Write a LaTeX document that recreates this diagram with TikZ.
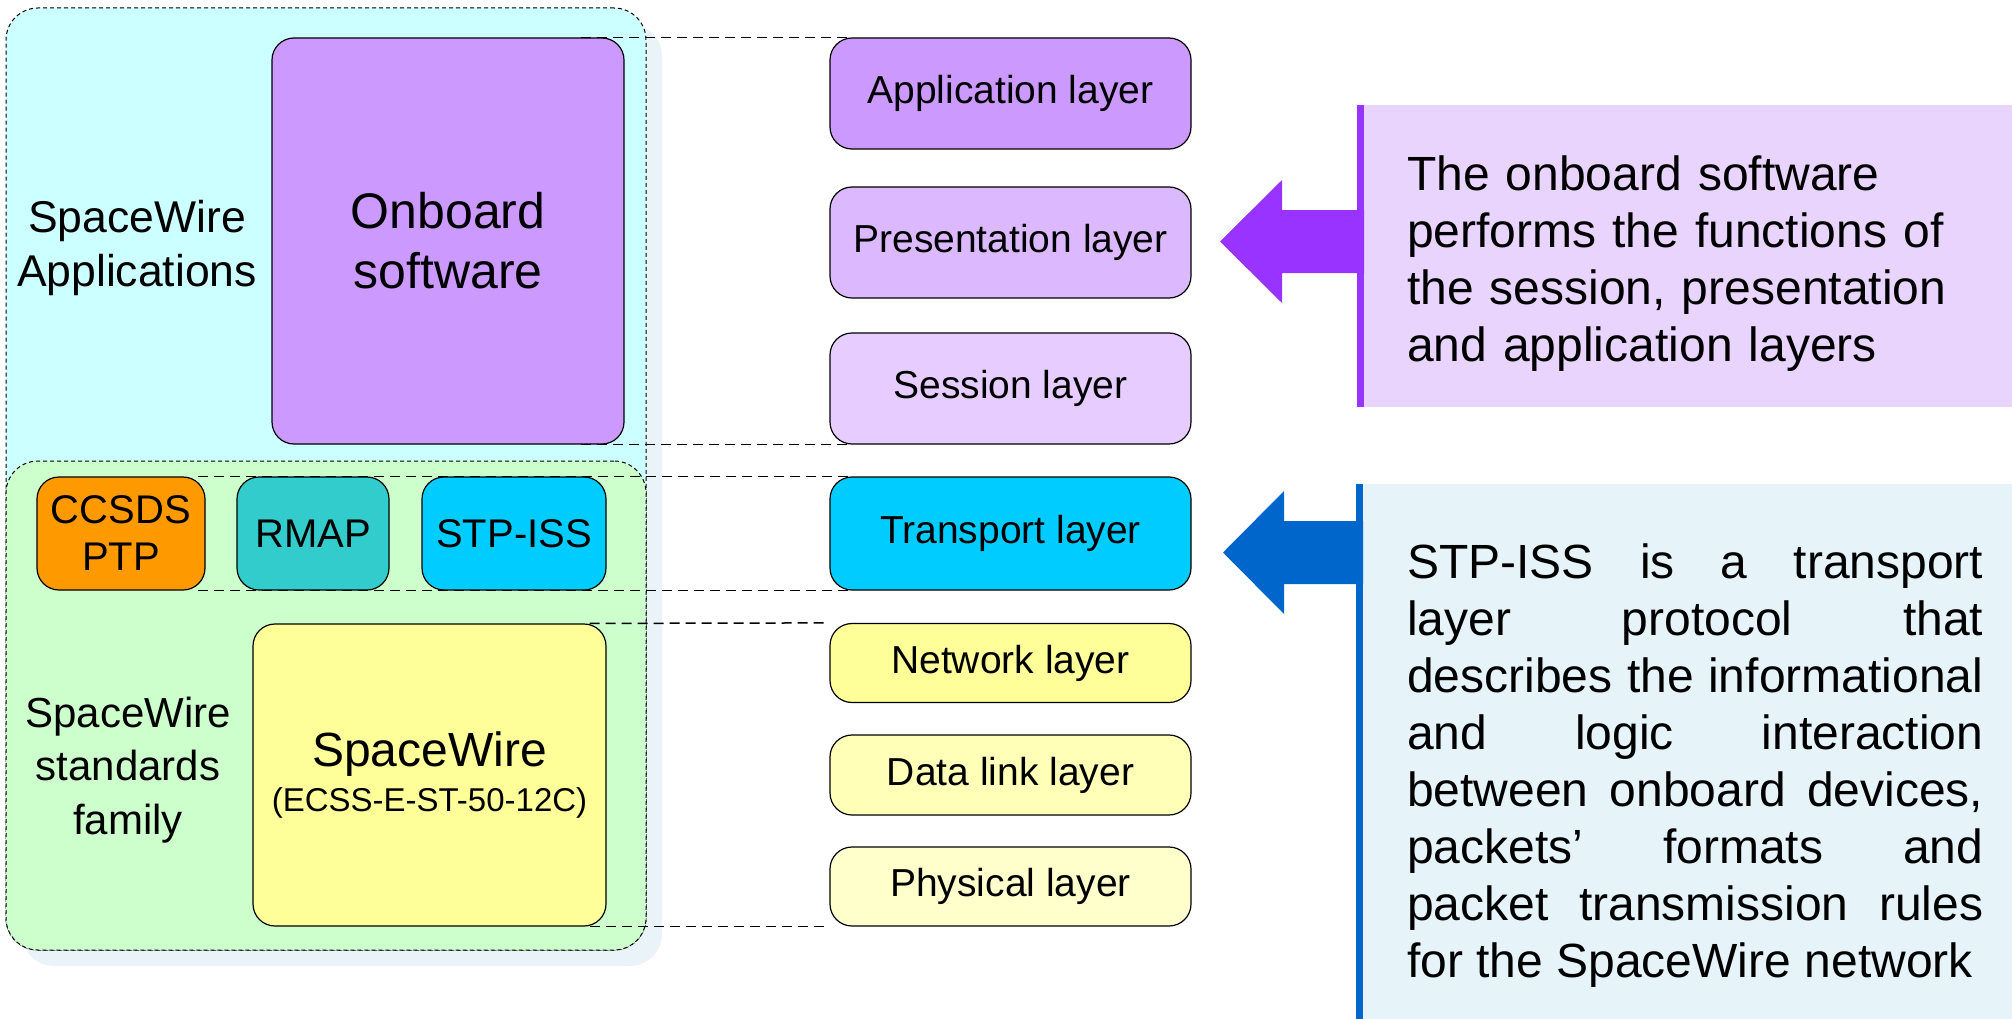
\documentclass[tikz,border=0pt]{standalone}
\usepackage{fontspec}
\setmainfont{Liberation Sans}
\usetikzlibrary{positioning}

\definecolor{appcyan}{HTML}{CCFFFF}
\definecolor{stdgreen}{HTML}{CCFFCC}
\definecolor{shadowblue}{HTML}{EAF3F8}
\definecolor{swpurple}{HTML}{CC99FF}
\definecolor{prespurple}{HTML}{DCB9FE}
\definecolor{sesspurple}{HTML}{E6CCFF}
\definecolor{ptporange}{HTML}{FF9900}
\definecolor{rmapteal}{HTML}{33CCCC}
\definecolor{stpblue}{HTML}{00CCFF}
\definecolor{spwyellow}{HTML}{FFFF99}
\definecolor{dlyellow}{HTML}{FFFFB8}
\definecolor{phyyellow}{HTML}{FFFFCC}
\definecolor{notepurple}{HTML}{E8D4FD}
\definecolor{barpurple}{HTML}{9933FF}
\definecolor{noteblue}{HTML}{E6F4FA}
\definecolor{barblue}{HTML}{0066CC}

\begin{document}
\begin{tikzpicture}[x=1pt, y=-1pt,
    grpbox/.style={draw=black, line width=1pt, dash pattern=on 4pt off 3pt, rounded corners=32pt, inner sep=0pt},
    swbox/.style={draw=black, line width=1.2pt, rounded corners=22pt, inner sep=0pt, align=center},
    layerbox/.style={swbox, minimum width=361pt, font=\fontsize{39}{45}\selectfont},
    protobox/.style={swbox, minimum height=113pt, font=\fontsize{40}{47}\selectfont},
    grplabel/.style={align=center, inner sep=0pt},
    guide/.style={line width=1.5pt, dash pattern=on 10pt off 6pt},
    notetext/.style={anchor=north west, inner sep=0pt, text width=576pt, font=\fontsize{48}{57}\selectfont}
  ]

  \useasboundingbox (0,0) rectangle (2012,1019);

  % Draw Group Boxes
  \fill[shadowblue, rounded corners=32pt] (22,24) rectangle (662,966);
  \node[grpbox, fill=appcyan, minimum width=640pt, minimum height=942pt] (apps) at (326,479) {};
  \node[grpbox, fill=stdgreen, minimum width=640pt, minimum height=489pt] (stds) at (326,705.5) {};

  % Group Labels
  \node[grplabel, font=\fontsize{44.5}{54}\selectfont] (appslabel) at (137,248) {SpaceWire\\Applications};
  \node[grplabel, font=\fontsize{42}{53.5}\selectfont] (stdslabel) at (128,770) {SpaceWire\\standards\\family};

  % Draw Software and Standards
  \node[swbox, fill=swpurple, minimum width=352pt, minimum height=406pt,
        font=\fontsize{50}{60}\selectfont] (onboard) at (448,241) {Onboard\\software};
  \node[protobox, fill=ptporange, minimum width=168pt] (ccsds) at (121,533.5) {CCSDS\\PTP};
  \node[protobox, fill=rmapteal, minimum width=152pt] (rmap) at (313,533.5) {RMAP};
  \node[protobox, fill=stpblue, minimum width=184pt] (stp) at (514,533.5) {STP-ISS};
  \node[swbox, fill=spwyellow, minimum width=353pt, minimum height=302pt,
        font=\fontsize{48}{45}\selectfont] (spw) at (429.5,775)
        {SpaceWire\\{\fontsize{33}{45}\selectfont (ECSS-E-ST-50-12C)}};

  % Draw Layer Stack
  \node[layerbox, fill=swpurple, minimum height=111pt] (app) at (1010.5,93.5) {Application layer};
  \node[layerbox, fill=prespurple, minimum height=111pt] (pres) at (1010.5,242.5) {Presentation layer};
  \node[layerbox, fill=sesspurple, minimum height=111pt] (sess) at (1010.5,388.5) {Session layer};
  \node[layerbox, fill=stpblue, minimum height=113pt] (trans) at (1010.5,533.5) {Transport layer};
  \node[layerbox, fill=spwyellow, minimum height=79pt] (net) at (1010.5,663) {Network layer};
  \node[layerbox, fill=dlyellow, minimum height=80pt] (dl) at (1010.5,775) {Data link layer};
  \node[layerbox, fill=phyyellow, minimum height=79pt] (phys) at (1010.5,886.5) {Physical layer};

  % Layer Guides
  % -- software
  \draw[guide] ([xshift=-44pt]onboard.north east) -- ([xshift=20pt]app.north west);
  \draw[guide] ([xshift=-44pt]onboard.south east) -- ([xshift=20pt]sess.south west);
  % -- transport
  \draw[guide] ([xshift=-8pt]ccsds.north east) -- ([xshift=20pt]trans.north west);
  \draw[guide] ([xshift=-8pt]ccsds.south east) -- ([xshift=20pt]trans.south west);
  % -- spacewire
  \draw[guide] ([xshift=-17pt]spw.north east) -- (net.north west);
  \draw[guide] ([xshift=-17pt]spw.south east) -- (phys.south west);

  % Onboard Software Note
  \fill[notepurple] (1357,105) rectangle (2012,407);
  \fill[barpurple] (1357,105) rectangle (1364,407);
  \fill[barpurple] (1364,210) -- (1282,210) -- (1282,180) -- (1220,241.5)
                -- (1282,303) -- (1282,273) -- (1364,273) -- cycle;
  \node[notetext, align=left] (swnote) at (1407,156)
    {The onboard software\\performs the functions of\\the session, presentation\\and application layers};

  % STP-ISS Note
  \fill[noteblue] (1356,484) rectangle (2012,1019);
  \fill[barblue] (1356,484) rectangle (1363,1019);
  \fill[barblue] (1363,521) -- (1284,521) -- (1284,491) -- (1223,552.5)
                -- (1284,614) -- (1284,584) -- (1363,584) -- cycle;
  \node[notetext, align=justify] (stpnote) at (1407,544)
    {\hyphenpenalty=10000 \tolerance=10000
     STP-ISS is a transport\linebreak
     layer protocol that\linebreak
     describes the informational\linebreak
     and logic interaction\linebreak
     between onboard devices,\linebreak
     packets’ formats and\linebreak
     packet transmission rules\linebreak
     for the SpaceWire network};
\end{tikzpicture}
\end{document}
